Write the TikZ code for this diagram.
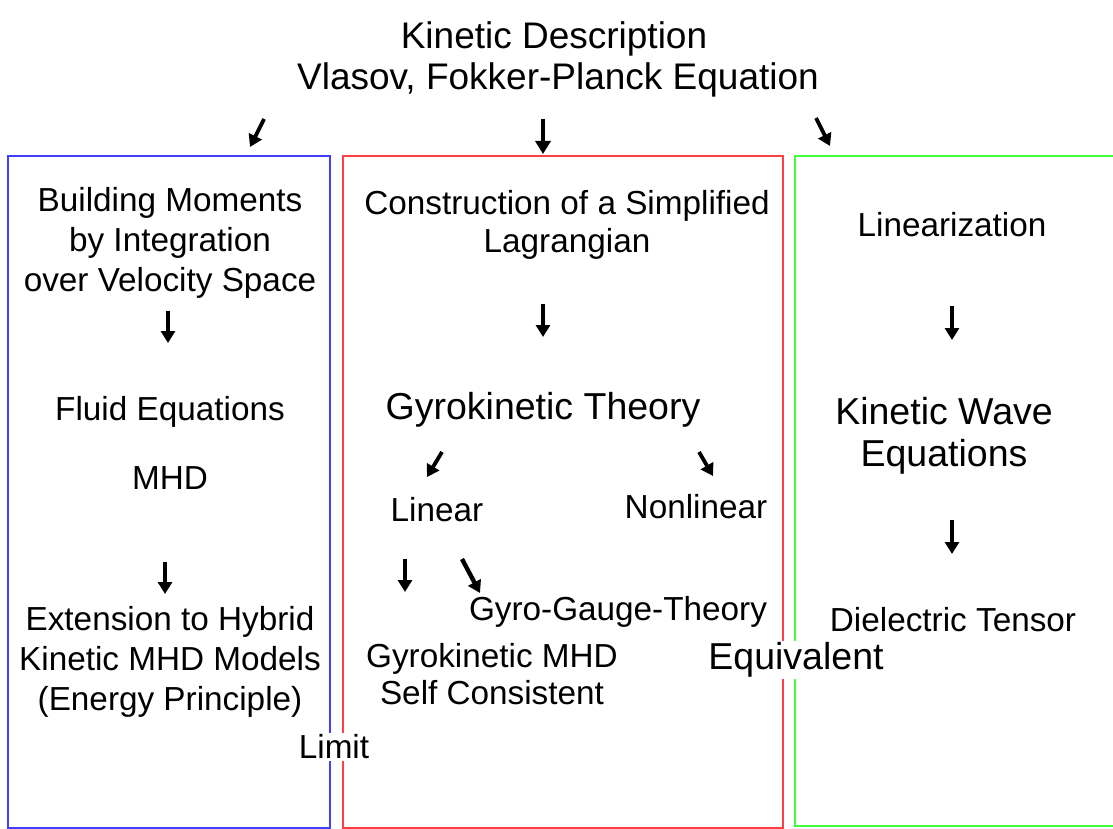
\documentclass[tikz,border=0pt]{standalone}
\usepackage{fontspec}
\setmainfont{Liberation Sans}
\usetikzlibrary{arrows.meta}
\begin{document}
\begin{tikzpicture}[x=1pt,y=-1pt,
  txt/.style={inner sep=0pt, align=center, font=\fontsize{33.3}{40}\selectfont},
  big/.style={inner sep=0pt, align=center, font=\fontsize{37.5}{42}\selectfont},
  ttl/.style={inner sep=0pt, align=center, font=\fontsize{37}{41}\selectfont},
  arr/.style={line width=3.8pt, -{Triangle[length=12pt,width=14pt]}},
  boxline/.style={line width=1.5pt},
  mask/.style={fill=white, inner sep=2pt}
  ]
\useasboundingbox (0,0) rectangle (1113,829);
% column boxes
\draw[boxline, blue!75] (8,156) rectangle (330,828);
\draw[boxline, red!75] (343,156) rectangle (783,828);
\draw[boxline, green!75!white] (1113,156) -- (795,156) -- (795,826) -- (1113,826);

% title
\node[ttl] (t1) at (554,39) {Kinetic Description};
\node[ttl] (t2) at (558,80) {Vlasov, Fokker-Planck Equation};
\coordinate (a1s) at (264,119); \coordinate (a1e) at (250,147);
\coordinate (a2s) at (543,119); \coordinate (a2e) at (543,154);
\coordinate (a3s) at (816,118); \coordinate (a3e) at (830,146);
\draw[arr] (a1s) -- (a1e);
\draw[arr, -{Triangle[length=13pt,width=15pt]}] (a2s) -- (a2e);
\draw[arr] (a3s) -- (a3e);

% left column
\node[txt] (bm) at (170,243) {Building Moments\\by Integration\\over Velocity Space};
\coordinate (l1s) at (168,311); \coordinate (l1e) at (168,343);
\draw[arr] (l1s) -- (l1e);
\node[txt] (fe) at (170,412) {Fluid Equations};
\node[txt] (mhd) at (170,478) {MHD};
\coordinate (l2s) at (165,562); \coordinate (l2e) at (165,594);
\draw[arr] (l2s) -- (l2e);
\node[txt] (ext) at (170,662) {Extension to Hybrid\\Kinetic MHD Models\\(Energy Principle)};

% middle column
\node[txt, font=\fontsize{33.3}{38}\selectfont] (con) at (567,225) {Construction of a Simplified\\Lagrangian};
\coordinate (m1s) at (543,304); \coordinate (m1e) at (543,337);
\draw[arr] (m1s) -- (m1e);
\node[big] (gt) at (543,410) {Gyrokinetic Theory};
\coordinate (m2s) at (442,452); \coordinate (m2e) at (427,477);
\coordinate (m3s) at (699,452); \coordinate (m3e) at (713,476);
\draw[arr] (m2s) -- (m2e);
\draw[arr] (m3s) -- (m3e);
\node[txt] (lin) at (437,510) {Linear};
\node[txt] (nl) at (696,507) {Nonlinear};
\coordinate (m4s) at (405,559); \coordinate (m4e) at (405,592);
\coordinate (m5s) at (462,559); \coordinate (m5e) at (480,593);
\draw[arr] (m4s) -- (m4e);
\draw[arr, line width=4.4pt] (m5s) -- (m5e);
\node[txt] (ggt) at (618,612) {Gyro-Gauge-Theory};
\node[txt, font=\fontsize{33.3}{37}\selectfont] (gmhd) at (492,674) {Gyrokinetic MHD\\Self Consistent};

% right column
\node[txt] (lz) at (952,225) {Linearization};
\coordinate (r1s) at (952,306); \coordinate (r1e) at (952,340);
\draw[arr] (r1s) -- (r1e);
\node[big] (kwe) at (944,436) {Kinetic Wave\\Equations};
\coordinate (r2s) at (952,520); \coordinate (r2e) at (952,554);
\draw[arr] (r2s) -- (r2e);
\node[txt] (dt) at (953,620) {Dielectric Tensor};

% overlays
\node[txt, mask] (lim) at (334,747) {Limit};
\node[big, mask] (eq) at (796,660) {Equivalent};
\end{tikzpicture}
\end{document}
